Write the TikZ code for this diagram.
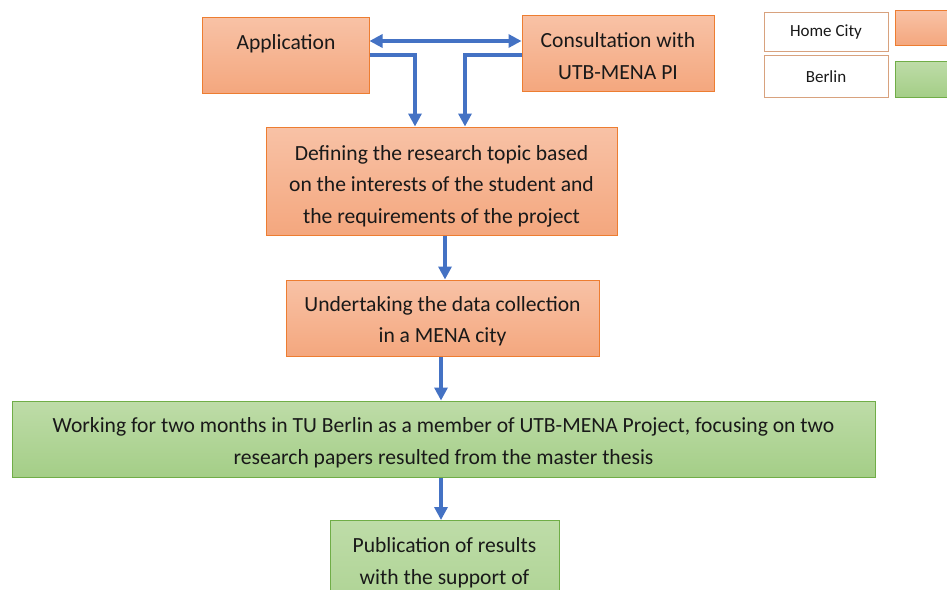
\documentclass[tikz,border=0pt]{standalone}
\usepackage{fontspec}
\setmainfont{Carlito}
\usetikzlibrary{arrows.meta}
\definecolor{obord}{HTML}{ED7D31}
\definecolor{otop}{HTML}{F8C2A6}
\definecolor{obot}{HTML}{F4A77E}
\definecolor{gbord}{HTML}{70AD47}
\definecolor{gtop}{HTML}{BEDCA8}
\definecolor{gbot}{HTML}{A4CE87}
\definecolor{arr}{HTML}{4472C4}
\tikzset{
  obox/.style={draw=obord, line width=1pt, top color=otop, bottom color=obot, rectangle, inner sep=0pt},
  gbox/.style={draw=gbord, line width=1pt, top color=gtop, bottom color=gbot, rectangle, inner sep=0pt},
  lbox/.style={draw=obord!80!black!60, line width=0.8pt, fill=white, rectangle, inner sep=0pt, font=\fontsize{17}{19}\selectfont, text=black!90},
  txt/.style={align=center, font=\fontsize{21.6}{31.5}\selectfont, text=black!90},
  flow/.style={draw=arr, line width=3.2pt, -{Triangle[width=13pt,length=13pt]}},
  flow2/.style={draw=arr, line width=3.2pt, {Triangle[width=13pt,length=13pt]}-{Triangle[width=13pt,length=13pt]}}
}
\begin{document}
\begin{tikzpicture}[x=1pt,y=-1pt]
\useasboundingbox (0,0) rectangle (947,589);
\fill[white] (0,0) rectangle (947,589);
% boxes
\node[obox, minimum width=167pt, minimum height=76pt] (app) at (285.5,55) {};
\node[txt] (apptxt) at (286,44) {Application};
\node[obox, minimum width=192pt, minimum height=76pt] (cons) at (618,53) {};
\node[txt] (constxt) at (618,56) {Consultation with\\UTB-MENA PI};
\node[obox, minimum width=351pt, minimum height=108pt] (def) at (441.5,181) {};
\node[txt] (deftxt) at (441.5,186) {Defining the research topic based\\on the interests of the student and\\the requirements of the project};
\node[obox, minimum width=313pt, minimum height=76pt] (und) at (442.5,318) {};
\node[txt] (undtxt) at (442.5,321) {Undertaking the data collection\\in a MENA city};
\node[gbox, minimum width=863pt, minimum height=76pt] (work) at (443.5,439) {};
\node[txt] (worktxt) at (443.5,442.5) {Working for two months in TU Berlin as a member of UTB-MENA Project, focusing on two\\research papers resulted from the master thesis};
\node[gbox, minimum width=229pt, minimum height=140pt, anchor=north] (pub) at (444.5,520) {};
\node[txt, anchor=north] (pubtxt) at (444.5,534) {Publication of results\\with the support of};
% legend
\node[lbox, minimum width=124pt, minimum height=39pt, text depth=2pt] (lhome) at (826,31.5) {Home City};
\node[lbox, minimum width=124pt, minimum height=42pt] (lber) at (826,76.5) {Berlin};
\node[obox, minimum width=70pt, minimum height=35pt, anchor=west] (lor) at (895,27.5) {};
\node[gbox, minimum width=70pt, minimum height=36pt, anchor=west] (lgr) at (895,79) {};
% connectors
\draw[flow2] (app.east |- 0,41) -- (cons.west |- 0,41);
\draw[flow] (app.east |- 0,55) -| (415,0 |- def.north);
\draw[flow] (cons.west |- 0,55) -| (465,0 |- def.north);
\draw[flow] (445,0 |- def.south) -- (445,0 |- und.north);
\draw[flow] (441,0 |- und.south) -- (441,0 |- work.north);
\draw[flow] (441,0 |- work.south) -- (441,0 |- pub.north);
\end{tikzpicture}
\end{document}
